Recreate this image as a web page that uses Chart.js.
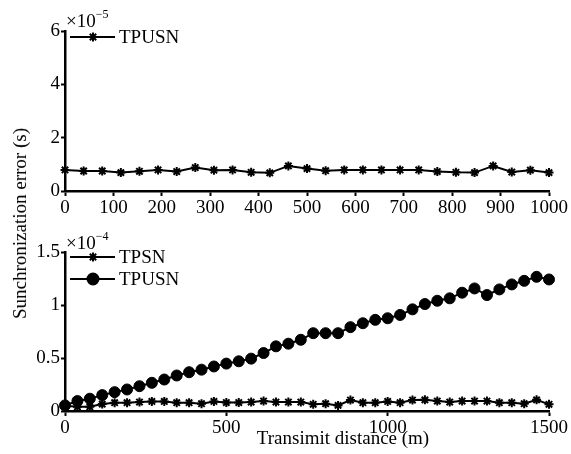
<!DOCTYPE html>
<html>
<head>
<meta charset="utf-8">
<script src="https://cdn.jsdelivr.net/npm/chart.js@4/dist/chart.umd.min.js"></script>
<style>
body { margin: 0; background: #fff; font-family: "Liberation Serif", serif; }
#wrap { position: relative; width: 571px; height: 454px; }
canvas { position: absolute; left: 0; }
.lbl { position: absolute; color: #000; white-space: nowrap; line-height: 1; }
#ytitle { left: 10px; top: 128px; font-size: 19px; writing-mode: vertical-rl; transform: rotate(180deg); }
#xtitle { left: 343px; top: 437px; font-size: 19px; transform: translate(-50%, -50%); }
.exp { font-size: 19px; }
.exp sup { font-size: 12px; vertical-align: 9px; }
</style>
</head>
<body>
<div id="wrap">
  <canvas id="topChart" width="571" height="227" style="top:0"></canvas>
  <canvas id="bottomChart" width="571" height="227" style="top:227px"></canvas>
  <div class="lbl" id="ytitle">Sunchronization error (s)</div>
  <div class="lbl" id="xtitle">Transimit distance (m)</div>
  <div class="lbl exp" style="left:66px;top:8px">×10<sup>−5</sup></div>
  <div class="lbl exp" style="left:66px;top:230px">×10<sup>−4</sup></div>
</div>
<script>
// top panel (values in units of 1e-5 s)
const topDistance = [0, 38.5, 76.9, 115.4, 153.8, 192.3, 230.8, 269.2, 307.7, 346.2, 384.6, 423.1, 461.5, 500,
  538.5, 576.9, 615.4, 653.8, 692.3, 730.8, 769.2, 807.7, 846.2, 884.6, 923.1, 961.5, 1000];
const topTPUSN = [0.79, 0.75, 0.75, 0.69, 0.74, 0.79, 0.73, 0.88, 0.78, 0.79, 0.70, 0.68, 0.94, 0.84,
  0.76, 0.79, 0.79, 0.79, 0.79, 0.79, 0.73, 0.70, 0.69, 0.94, 0.71, 0.78, 0.69];

// bottom panel (values in units of 1e-4 s)
const bottomDistance = [0, 38.5, 76.9, 115.4, 153.8, 192.3, 230.8, 269.2, 307.7, 346.2, 384.6, 423.1, 461.5, 500,
  538.5, 576.9, 615.4, 653.8, 692.3, 730.8, 769.2, 807.7, 846.2, 884.6, 923.1, 961.5, 1000, 1038.5, 1076.9,
  1115.4, 1153.8, 1192.3, 1230.8, 1269.2, 1307.7, 1346.2, 1384.6, 1423.1, 1461.5, 1500];
const bottomTPSN = [0.05, 0.04, 0.04, 0.065, 0.078, 0.078, 0.084, 0.09, 0.09, 0.078, 0.078, 0.069, 0.09, 0.08,
  0.08, 0.084, 0.094, 0.084, 0.084, 0.084, 0.063, 0.069, 0.053, 0.103, 0.078, 0.078, 0.09, 0.078, 0.103,
  0.105, 0.094, 0.084, 0.094, 0.094, 0.094, 0.078, 0.078, 0.069, 0.105, 0.063];
const bottomTPUSN = [0.053, 0.094, 0.116, 0.15, 0.178, 0.203, 0.234, 0.266, 0.297, 0.335, 0.366, 0.39, 0.42,
  0.447, 0.469, 0.494, 0.547, 0.61, 0.635, 0.672, 0.734, 0.734, 0.734, 0.791, 0.828, 0.86, 0.875, 0.906,
  0.959, 1.009, 1.04, 1.063, 1.116, 1.156, 1.094, 1.147, 1.194, 1.228, 1.266, 1.241];

const topTicksY = [0, 2, 4, 6];
const bottomTicksY = [0, 0.5, 1, 1.5];

const FONT = "Liberation Serif";

function pts(xs, ys) {
  return xs.map((x, i) => ({ x: x, y: ys[i] }));
}

// legend with a line segment and marker, drawn in the top-left corner
const lineLegend = {
  id: "lineLegend",
  afterDraw(chart, args, opts) {
    const ctx = chart.ctx;
    ctx.save();
    opts.items.forEach(item => {
      ctx.strokeStyle = "#000";
      ctx.fillStyle = "#000";
      ctx.lineWidth = 2;
      ctx.beginPath();
      ctx.moveTo(70, item.y);
      ctx.lineTo(115, item.y);
      ctx.stroke();
      Chart.helpers.drawPoint(ctx, { pointStyle: item.style, radius: item.radius, borderWidth: 2, rotation: 0 }, 93, item.y);
      ctx.font = "19px '" + FONT + "'";
      ctx.textBaseline = "middle";
      ctx.textAlign = "left";
      ctx.fillText(item.label, 119, item.y + 1);
    });
    ctx.restore();
  }
};

function axisX(max, step, h) {
  return {
    type: "linear", min: 0, max: max,
    ticks: {
      stepSize: step, color: "#000", font: { family: FONT, size: 19 }, padding: 1, maxRotation: 0, autoSkip: false,
      callback: v => String(v)
    },
    grid: { drawOnChartArea: false, tickLength: 5, tickColor: "#000", tickWidth: 2 },
    border: { color: "#000", width: 2.5 },
    afterFit(s) { s.height = h; }
  };
}

function axisY(vals) {
  return {
    min: vals[0], max: vals[vals.length - 1],
    afterBuildTicks(s) { s.ticks = vals.map(v => ({ value: v })); },
    ticks: { color: "#000", font: { family: FONT, size: 19 }, padding: 1, callback: v => String(v) },
    grid: { drawOnChartArea: false, tickLength: 4, tickColor: "#000", tickWidth: 2 },
    border: { color: "#000", width: 2.5 },
    afterFit(s) { s.width = 65; }
  };
}

const starSet = {
  borderColor: "#000", backgroundColor: "#000", borderWidth: 2, tension: 0,
  pointStyle: "star", pointRadius: 4.5, pointBorderWidth: 2, clip: false
};

new Chart(document.getElementById("topChart"), {
  type: "line",
  data: {
    datasets: [
      Object.assign({ label: "TPUSN", data: pts(topDistance, topTPUSN) }, starSet)
    ]
  },
  options: {
    responsive: false, animation: false,
    layout: { padding: { top: 31, right: 22, left: 0, bottom: 0 } },
    plugins: {
      legend: { display: false }, tooltip: { enabled: false },
      lineLegend: { items: [{ label: "TPUSN", style: "star", radius: 4.5, y: 37 }] }
    },
    scales: { x: axisX(1000, 100, 36), y: axisY(topTicksY) }
  },
  plugins: [lineLegend]
});

new Chart(document.getElementById("bottomChart"), {
  type: "line",
  data: {
    datasets: [
      {
        label: "TPUSN", data: pts(bottomDistance, bottomTPUSN),
        borderColor: "#000", backgroundColor: "#000", borderWidth: 2, tension: 0,
        pointStyle: "circle", pointRadius: 5.5, pointBorderWidth: 1, clip: false
      },
      Object.assign({ label: "TPSN", data: pts(bottomDistance, bottomTPSN) }, starSet)
    ]
  },
  options: {
    responsive: false, animation: false,
    layout: { padding: { top: 25, right: 22, left: 0, bottom: 0 } },
    plugins: {
      legend: { display: false }, tooltip: { enabled: false },
      lineLegend: { items: [
        { label: "TPSN", style: "star", radius: 4.5, y: 30 },
        { label: "TPUSN", style: "circle", radius: 5.5, y: 52 }
      ] }
    },
    scales: { x: axisX(1500, 500, 43), y: axisY(bottomTicksY) }
  },
  plugins: [lineLegend]
});
</script>
</body>
</html>
